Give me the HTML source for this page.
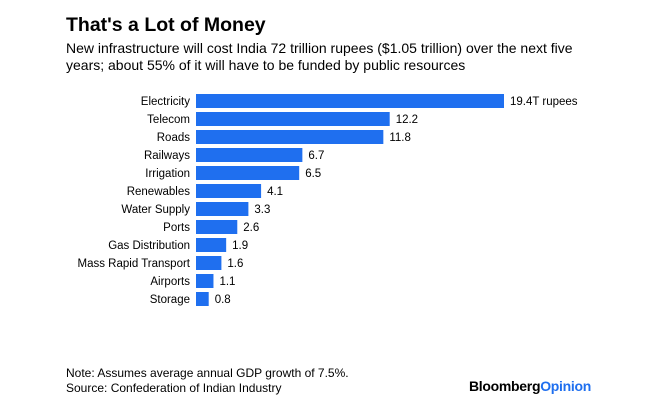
<!DOCTYPE html>
<html><head><meta charset="utf-8"><style>
body{margin:0;background:#fff;font-family:"Liberation Sans",sans-serif;}
#wrap{position:relative;width:650px;height:400px;overflow:hidden;}
.t{position:absolute;white-space:nowrap;color:#000;}
</style></head><body>
<div id="wrap">
<div class="t" style="left:66px;top:14px;font-size:19.5px;font-weight:bold;">That's a Lot of Money</div>
<div class="t" style="left:66px;top:40px;font-size:14px;line-height:17px;">New infrastructure will cost India 72 trillion rupees ($1.05 trillion) over the next five<br>years; about 55% of it will have to be funded by public resources</div>
<svg id="chart" width="650" height="400" style="position:absolute;left:0;top:0"></svg>
<div class="t" style="left:66px;top:366px;font-size:12px;line-height:15px;">Note: Assumes average annual GDP growth of 7.5%.<br>Source: Confederation of Indian Industry</div>
<div class="t" style="left:469px;top:378px;font-size:14px;font-weight:bold;letter-spacing:-0.3px;">Bloomberg<span style="color:#1f6fef">Opinion</span></div>
</div>
<script>
const categories=["Electricity","Telecom","Roads","Railways","Irrigation","Renewables","Water Supply","Ports","Gas Distribution","Mass Rapid Transport","Airports","Storage"];
const values=[19.4,12.2,11.8,6.7,6.5,4.1,3.3,2.6,1.9,1.6,1.1,0.8];
const valueLabels=["19.4T rupees","12.2","11.8","6.7","6.5","4.1","3.3","2.6","1.9","1.6","1.1","0.8"];
const svg=document.getElementById('chart');
const NS='http://www.w3.org/2000/svg';
const x0=196,pxPerUnit=308/19.4;
const xScale=v=>x0+v*pxPerUnit;
const yScale=i=>94+i*18;
const bh=14;
categories.forEach((c,i)=>{
  const y=yScale(i);
  const r=document.createElementNS(NS,'rect');
  r.setAttribute('x',x0);r.setAttribute('y',y);
  r.setAttribute('width',xScale(values[i])-x0);r.setAttribute('height',bh);
  r.setAttribute('fill','#1f6fef');
  
  
  svg.appendChild(r);
  const l=document.createElementNS(NS,'text');
  l.setAttribute('x',x0-6);l.setAttribute('y',y+bh/2+4);
  l.setAttribute('text-anchor','end');l.setAttribute('font-size','11.5');
  l.setAttribute('font-family','Liberation Sans, sans-serif');
  l.textContent=c;
  
  
  svg.appendChild(l);
  const v=document.createElementNS(NS,'text');
  v.setAttribute('x',xScale(values[i])+6);v.setAttribute('y',y+bh/2+4);
  v.setAttribute('font-size','11.5');
  v.setAttribute('font-family','Liberation Sans, sans-serif');
  v.textContent=valueLabels[i];
  
  
  svg.appendChild(v);
});
</script>
</body></html>
